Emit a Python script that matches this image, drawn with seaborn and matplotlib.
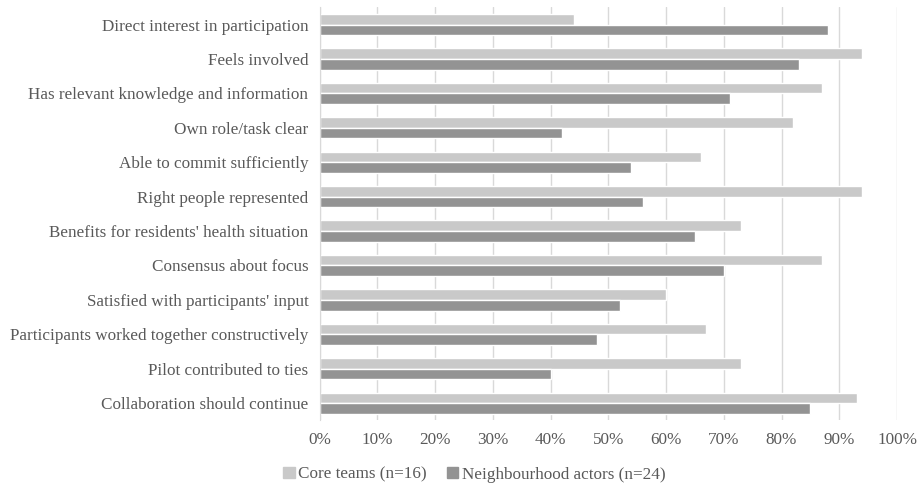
import pandas as pd
import matplotlib.pyplot as plt
import seaborn as sns
from matplotlib.ticker import PercentFormatter
from matplotlib.patches import Patch

# Dados
itens = ['Direct interest in participation', 'Feels involved',
         'Has relevant knowledge and information', 'Own role/task clear',
         'Able to commit sufficiently', 'Right people represented',
         "Benefits for residents' health situation", 'Consensus about focus',
         "Satisfied with participants' input",
         'Participants worked together constructively',
         'Pilot contributed to ties', 'Collaboration should continue']
core = [44, 94, 87, 82, 66, 94, 73, 87, 60, 67, 73, 93]
vizinhanca = [88, 83, 71, 42, 54, 56, 65, 70, 52, 48, 40, 85]
grupos = ['Core teams (n=16)', 'Neighbourhood actors (n=24)']
cores = ['#c9c9c9', '#939393']

df = pd.DataFrame({'Item': itens * 2,
                   'Valor': core + vizinhanca,
                   'Grupo': [grupos[0]] * len(itens) + [grupos[1]] * len(itens)})

sns.set_style('white')
plt.rcParams['font.family'] = ['Liberation Serif', 'DejaVu Serif']
cinza = '#595959'

fig, ax = plt.subplots(figsize=(9.21, 4.86), dpi=100)
sns.barplot(data=df, y='Item', x='Valor', hue='Grupo', order=itens,
            palette=cores, width=0.62, saturation=1,
            ax=ax, orient='h', legend=False)

ax.set_xlim(0, 100)
ax.set_xticks(range(0, 101, 10))
ax.xaxis.set_major_formatter(PercentFormatter(decimals=0))
ax.grid(axis='x', color='#d9d9d9', linewidth=1)
ax.set_axisbelow(True)
for s in ['top', 'right', 'bottom']:
    ax.spines[s].set_visible(False)
ax.spines['left'].set_color('#d9d9d9')
ax.tick_params(axis='both', length=0, labelsize=12.3, colors=cinza, pad=8)
ax.set_xlabel('')
ax.set_ylabel('')

# Legenda embaixo
handles = [Patch(color=c) for c in cores]
fig.legend(handles, grupos, loc='lower center', bbox_to_anchor=(0.515, -0.018),
           ncol=2, frameon=False, fontsize=12.3, labelcolor=cinza,
           handlelength=0.65, handleheight=0.65, handletextpad=0.2,
           columnspacing=1.2, borderpad=0.2)

plt.subplots_adjust(left=0.347, right=0.974, top=0.985, bottom=0.135)
plt.savefig('out.png')
